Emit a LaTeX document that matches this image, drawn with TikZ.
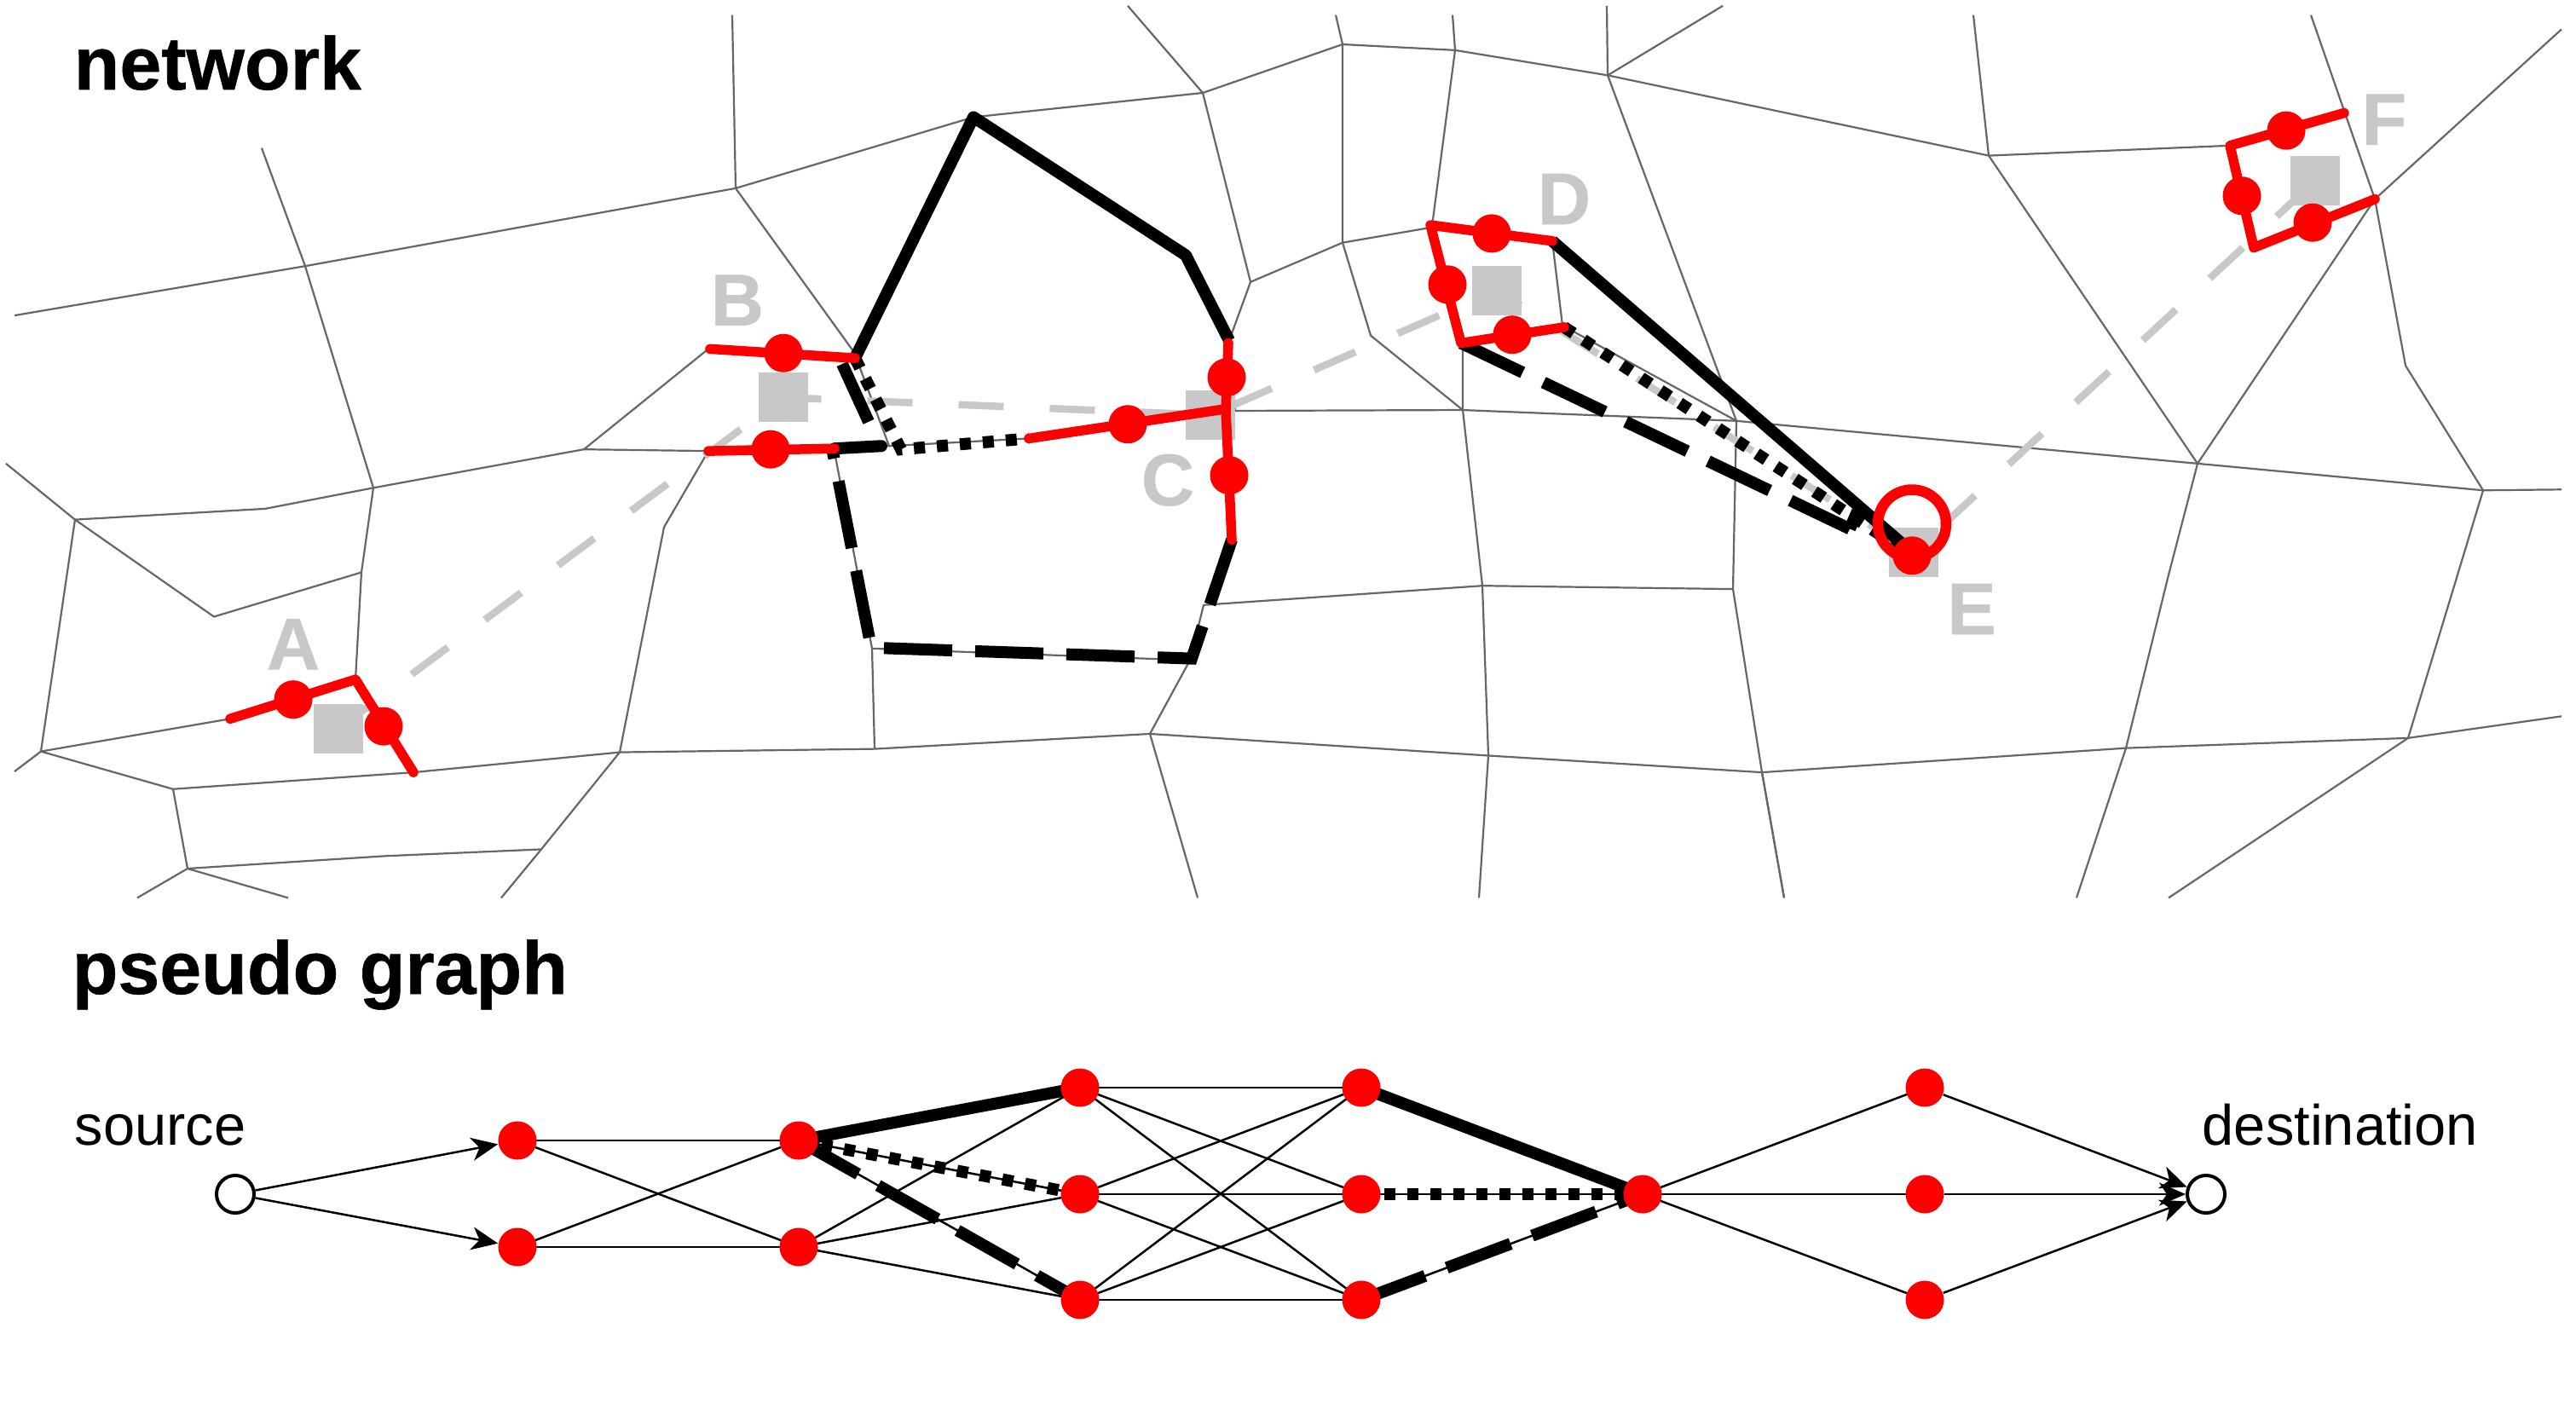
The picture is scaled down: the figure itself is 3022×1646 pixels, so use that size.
\documentclass[tikz,border=0pt]{standalone}
\usepackage{fontspec}
\setmainfont{Liberation Sans}
\newfontfamily\heavyfont[FakeBold=0.6]{Liberation Sans Bold}
\usetikzlibrary{arrows.meta,backgrounds}
\definecolor{netgray}{HTML}{666666}
\definecolor{lightg}{HTML}{C8C8C8}
\tikzset{
  grid/.style={draw=netgray,line width=.022cm,line join=round},
  route/.style={draw=lightg,line width=.085cm,dash pattern=on .53cm off .54cm},
  square/.style={fill=lightg,inner sep=0pt,minimum size=.58cm,shape=rectangle},
  letter/.style={text=lightg,font=\fontsize{24.5}{28}\selectfont\heavyfont,anchor=base,inner sep=0pt},
  title/.style={font=\fontsize{25}{30}\selectfont\heavyfont,anchor=base west,inner sep=0pt},
  plain/.style={font=\fontsize{19}{22}\selectfont,anchor=base west,inner sep=0pt},
  redline/.style={draw=red,line width=.115cm,line cap=round,line join=round},
  reddot/.style={circle,fill=red,inner sep=0pt,minimum size=.45cm},
  blacksolid/.style={draw=black,line width=.14cm,line join=round},
  blackdash/.style={draw=black,line width=.14cm,dash pattern=on .8cm off .27cm},
  blackdot/.style={draw=black,line width=.14cm,dash pattern=on .13cm off .14cm},
  thinedge/.style={draw=black,line width=.025cm},
  arrowedge/.style={draw=black,line width=.025cm,-{Stealth[length=.31cm,width=.27cm,inset=.09cm]}},
  opennode/.style={circle,draw=black,fill=white,line width=.04cm,inner sep=0pt,minimum size=.44cm}
}
\begin{document}
\begin{tikzpicture}[x=.01cm,y=-.01cm]
\useasboundingbox (0,0) rectangle (3022,1646);
\node[title] (tnet) at (86,105) {network};
\node[title] (tpg) at (84,1166) {pseudo graph};
\node[plain] (tsrc) at (87,1343) {source};
\node[plain] (tdst) at (2583,1343) {destination};
\begin{scope}[y=-.009817cm]
% street network
\draw[grid] (859,18) -- (863,225) -- (1142,140) -- (1411,111) -- (1575,53) -- (1707,60) -- (1886,90) -- (2333,186) -- (2616,174);
\draw[grid] (17,377) -- (358,318) -- (863,225) -- (1002,421) -- (1043,533) -- (1207,524) -- (1438,491) -- (1716,490) -- (2037,503) -- (2578,554) -- (2913,586) -- (3005,585);
\draw[grid] (307,177) -- (358,318) -- (438,583) -- (424,684) -- (417,812);
\draw[grid] (7,554) -- (88,621) -- (251,737) -- (424,684);
\draw[grid] (88,621) -- (311,608) -- (438,583) -- (685,537) -- (831,539) -- (1043,533);
\draw[grid] (685,537) -- (831,417);
\draw[grid] (88,621) -- (48,898) -- (270,859);
\draw[grid] (17,922) -- (48,898) -- (203,943) -- (485,923) -- (727,899) -- (1026,895) -- (1349,877) -- (1746,903) -- (2067,923) -- (2494,894) -- (2825,882) -- (3005,856);
\draw[grid] (203,943) -- (220,1038) -- (452,1023) -- (635,1015);
\draw[grid] (161,1073) -- (220,1038) -- (338,1073);
\draw[grid] (588,1073) -- (635,1015) -- (727,899) -- (779,630) -- (831,539);
\draw[grid] (1323,7) -- (1411,111) -- (1467,337) -- (1442,407) -- (1449,490);
\draw[grid] (1567,18) -- (1575,53) -- (1575,290) -- (1467,337);
\draw[grid] (1704,18) -- (1707,60) -- (1680,270);
\draw[grid] (1885,7) -- (1886,90) -- (2037,503);
\draw[grid] (2021,7) -- (1886,90);
\draw[grid] (1575,290) -- (1678,272);
\draw[grid] (1575,290) -- (1608,401) -- (1716,490);
\draw[grid] (1821,288) -- (1833,389) -- (2037,503);
\draw[grid] (1716,414) -- (1716,490) -- (1739,700) -- (1746,903) -- (1735,1073);
\draw[grid] (1396,789) -- (1412,723) -- (1739,700) -- (2033,704) -- (2037,503);
\draw[grid] (2033,704) -- (2067,923) -- (2093,1073);
\draw[grid] (979,540) -- (1023,775) -- (1026,895);
\draw[grid] (1023,775) -- (1396,789) -- (1349,877) -- (1405,1073);
\draw[grid] (2315,18) -- (2333,186) -- (2578,554) -- (2786,238) -- (3005,35);
\draw[grid] (2711,18) -- (2786,238) -- (2822,437) -- (2913,586) -- (2825,882) -- (2544,1073);
\draw[grid] (2578,554) -- (2544,687) -- (2494,894) -- (2436,1073);
\draw[grid] (2067,923) -- (2093,1073);
% route between the points
\draw[route] (397,871) -- (919,475) -- (1420,496) -- (1756,347) -- (2245,660) -- (2716,216);
% points
\node[square] (sa) at (397,871) {};
\node[square] (sb) at (919,475) {};
\node[square] (sc) at (1420,496) {};
\node[square] (sd) at (1756,347) {};
\node[square] (se) at (2245,660) {};
\node[square] (sf) at (2716,216) {};
\node[letter] (la) at (344,800) {A};
\node[letter] (lb) at (865,389) {B};
\node[letter] (lc) at (1370,604) {C};
\node[letter] (ld) at (1835,268) {D};
\node[letter] (le) at (2313,758) {E};
\node[letter] (lf) at (2797,173) {F};
% black paths
\draw[blacksolid] (1003,428) -- (1142,140) -- (1391,305) -- (1442,407);
\draw[blacksolid] (1821,288) -- (2243,660);
\draw[blackdash] (1445,645) -- (1398,787) -- (1022,774) -- (977,540);
\draw[blackdash] (1714,410) -- (2170,632);
\draw[blacksolid] (2170,632) -- (2179,611);
\draw[blackdot] (1003,428) -- (1057,537) -- (1207,524);
\draw[blackdot] (1835,391) -- (2243,664);
\draw[blacksolid] (988,435) -- (1019,504);
\draw[blacksolid,line cap=round] (979,536) -- (1034,533);
% red paths
\draw[redline] (270,859) -- (417,812) -- (485,923);
\draw[redline] (833,417) -- (1003,428);
\draw[redline] (831,539) -- (979,536);
\draw[redline] (1441,410) -- (1438,490) -- (1445,645);
\draw[redline] (1207,524) -- (1436,489);
\draw[redline] (1821,288) -- (1678,269) -- (1714,410) -- (1835,391);
\draw[redline] (2750,135) -- (2616,174) -- (2644,296) -- (2786,238);
\node[circle,draw=red,line width=.125cm,inner sep=0pt,minimum size=.8cm] (ering) at (2243,626) {};
\foreach \n/\p in {a1/{344,836},a2/{450,868},b1/{919,422},b2/{904,537},c1/{1439,451},c2/{1442,568},c3/{1323,507},d1/{1750,279},d2/{1698,340},d3/{1774,400},e1/{2243,664},f1/{2682,156},f2/{2630,234},f3/{2713,266}}
  \node[reddot] (\n) at (\p) {};
\end{scope}
% pseudo graph
\node[opennode] (src) at (276,1401) {};
\node[opennode] (dst) at (2588,1401) {};
\foreach \n/\p in {p1/{607,1338},p2/{607,1463},q1/{937,1338},q2/{937,1463},r1/{1267,1276},r2/{1267,1401},r3/{1267,1525},s1/{1597,1276},s2/{1597,1401},s3/{1597,1525},t/{1927,1401},u1/{2258,1276},u2/{2258,1401},u3/{2258,1525}}
  \node[reddot] (\n) at (\p) {};
\begin{scope}[on background layer]
\foreach \a in {p1,p2} \foreach \b in {q1,q2} \draw[thinedge] (\a.center) -- (\b.center);
\foreach \a in {q1,q2} \foreach \b in {r1,r2,r3} \draw[thinedge] (\a.center) -- (\b.center);
\foreach \a in {r1,r2,r3} \foreach \b in {s1,s2,s3} \draw[thinedge] (\a.center) -- (\b.center);
\foreach \a in {s1,s2,s3} \draw[thinedge] (\a.center) -- (t.center);
\foreach \b in {u1,u2,u3} \draw[thinedge] (t.center) -- (\b.center);
\draw[blacksolid] (q1.center) -- (r1.center);
\draw[blackdot] (q1.center) -- (r2.center);
\draw[blackdash] (q1.center) -- (r3.center);
\draw[blacksolid] (s1.center) -- (t.center);
\draw[blackdot] (s2.center) -- (t.center);
\draw[blackdash] (s3.center) -- (t.center);
\end{scope}
\draw[arrowedge] (src) -- (p1);
\draw[arrowedge] (src) -- (p2);
\draw[arrowedge] (u1) -- (dst);
\draw[arrowedge] (u2) -- (dst);
\draw[arrowedge] (u3) -- (dst);
\end{tikzpicture}
\end{document}
